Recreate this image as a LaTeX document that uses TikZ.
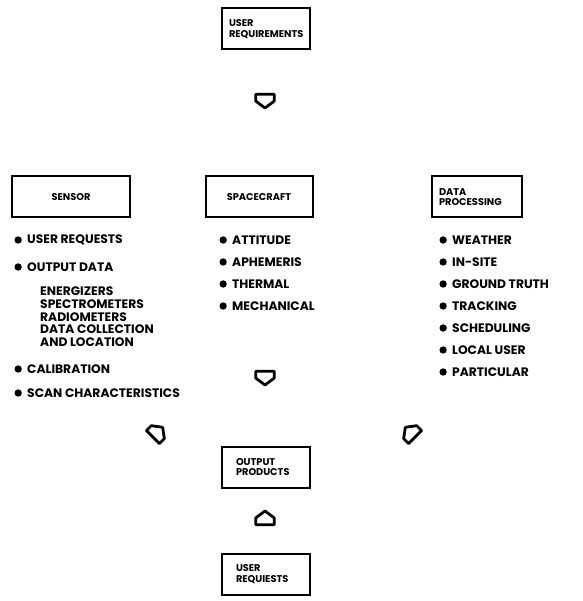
\documentclass[tikz,border=0pt]{standalone}
\usepackage{fontspec}
\setmainfont{Poppins}
\usepackage{tikz}
\usetikzlibrary{positioning}

\tikzset{
  blk/.style={draw, line width=2pt, minimum height=41pt, inner xsep=7pt,
    font=\bfseries\fontsize{9.8}{10.5}\selectfont},
  item/.style={anchor=west, inner sep=0pt, font=\bfseries\fontsize{12.3}{13}\selectfont,
    label={[circle, fill, inner sep=2.6pt, label distance=5pt]left:{}}},
  sub/.style={anchor=west, inner sep=0pt, align=left,
    font=\bfseries\fontsize{12.3}{12.8}\selectfont},
  flow/.style={draw, line width=2.8pt, fill=white, line join=round}
}
% pentagon arrow, pointing down before rotation
\newcommand{\flowarrow}[2]{%
  \draw[flow, rotate around={#2:#1}, shift={#1}, scale=1.15]
    (-8,-5) -- (8,-5) -- (8,1) -- (0,7) -- (-8,1) -- cycle;}

\begin{document}
\begin{tikzpicture}[x=1pt, y=-1pt]
  \useasboundingbox[fill=white] (0,0) rectangle (582,601);

  % boxes
  \node[blk, minimum width=88pt, text width=74pt, align=left] (req) at (266,29) {USER\\REQUIREMENTS};
  \node[blk, minimum width=118pt, align=center] (sensor) at (71,197) {SENSOR};
  \node[blk, minimum width=107pt, align=center] (craft) at (259,197) {SPACECRAFT};
  \node[blk, minimum width=90pt, text width=76pt, align=left] (dproc) at (477,197) {DATA\\PROCESSING};
  \node[blk, minimum width=88pt, text width=60pt, align=left] (out) at (266,467) {OUTPUT\\PRODUCTS};
  \node[blk, minimum width=88pt, text width=60pt, align=left] (reqs) at (266,574) {USER\\REQUIESTS};

  % sensor list
  \node[item] (s1) at (27,240) {USER REQUESTS};
  \node[item] (s2) at (27,267) {OUTPUT DATA};
  \node[sub, below right=15pt and 13pt of s2.south west, anchor=north west] (s3)
    {ENERGIZERS\\SPECTROMETERS\\RADIOMETERS\\DATA COLLECTION\\AND LOCATION};
  \node[item] (s4) at (27,369) {CALIBRATION};
  \node[item] (s5) at (27,393) {SCAN CHARACTERISTICS};

  % spacecraft list
  \foreach \t [count=\i] in {ATTITUDE, APHEMERIS, THERMAL, MECHANICAL}
    \node[item] (c\i) at (232,240+22*\i-22) {\t};

  % data processing list
  \foreach \t [count=\i] in {WEATHER, IN-SITE, GROUND TRUTH, TRACKING,
      SCHEDULING, LOCAL USER, PARTICULAR}
    \node[item] (d\i) at (452,240+22*\i-22) {\t};

  % flow arrows
  \flowarrow{(265,100)}{0}
  \flowarrow{(265,377)}{0}
  \flowarrow{(157,433)}{135}
  \flowarrow{(411,433)}{-135}
  \flowarrow{(265,519)}{180}
\end{tikzpicture}
\end{document}
